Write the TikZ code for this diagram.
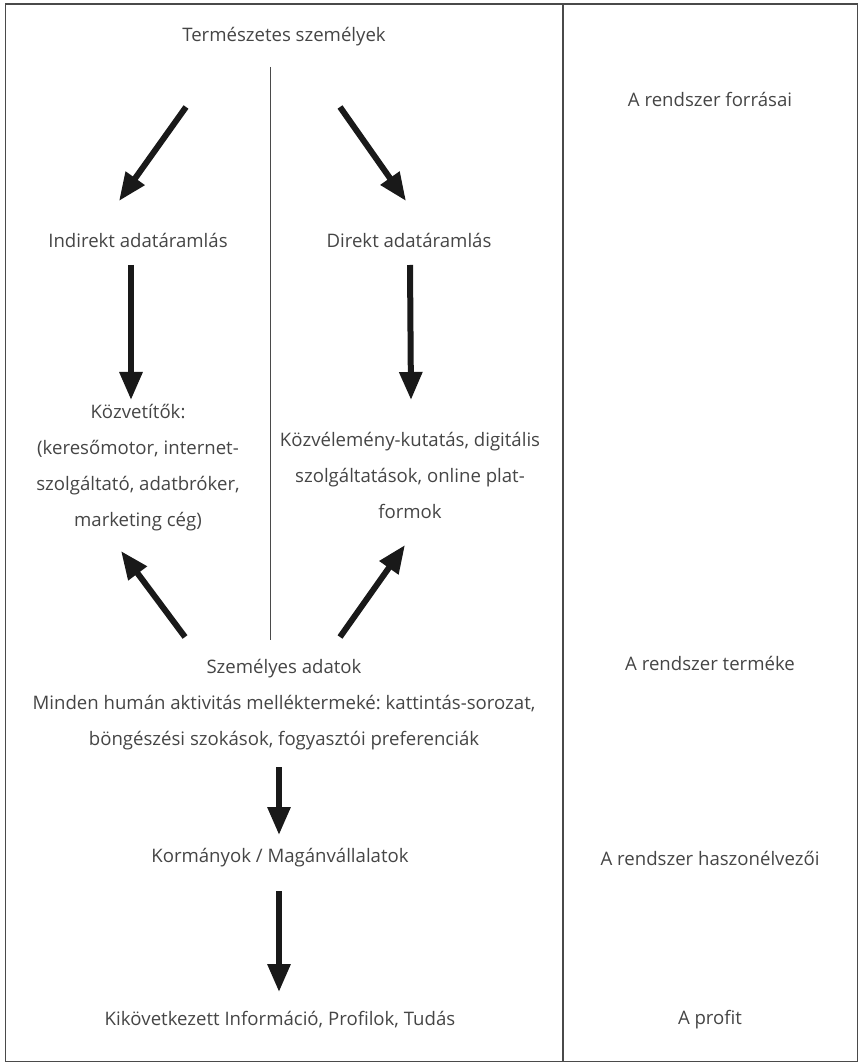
\documentclass[tikz,border=0pt]{standalone}
\usepackage{fontspec}
\setmainfont{Open Sans}
\frenchspacing
\usetikzlibrary{arrows.meta}
\usetikzlibrary{positioning}
\definecolor{txtgray}{HTML}{454545}
\definecolor{framegray}{HTML}{4A4A4A}
\tikzset{
    lbl/.style={text=txtgray, font=\fontsize{9.3}{18}\selectfont, align=center, inner sep=0pt},
    flow/.style={draw=black!90, line width=3pt, -{Triangle[length=14pt,width=11pt]}},
    frame/.style={draw=framegray, line width=0.8pt},
    divider/.style={draw=framegray, line width=0.5pt},
}
\begin{document}
\begin{tikzpicture}[x=0.5pt,y=-0.5pt]
	\useasboundingbox (0,0) rectangle (859,1063);
	\draw[frame] (5.5,4) rectangle (857.5,1061.5);
	\draw[frame] (563,4) -- (563,1061.5);
	\draw[divider] (270,67) -- (270,640);
	% left column
	\node[lbl] (term) at (284,37) {Természetes személyek};
	\node[lbl] (indirekt) at (138,240) {Indirekt adatáramlás};
	\node[lbl] (direkt) at (409,240) {Direkt adatáramlás};
	\node[lbl] (kozvetitok) at (138,467.5) {Közvetítők:\\(keresőmotor, internet-\\szolgáltató, adatbróker,\\marketing cég)};
	\node[lbl] (kozvelemeny) at (410,475.5) {Közvélemény-kutatás, digitális\\szolgáltatások, online plat-\\formok};
	\node[lbl] (szemelyes) at (284,704.5) {Személyes adatok\\Minden humán aktivitás melléktermeké: kattintás-sorozat,\\böngészési szokások, fogyasztói preferenciák};
	\node[lbl] (kormanyok) at (280,858) {Kormányok / Magánvállalatok};
	\node[lbl] (tudas) at (280,1020) {Kikövetkezett Információ, Profilok, Tudás};
	% right column
	\node[lbl] (forrasai) at (710,99) {A rendszer forrásai};
	\node[lbl] (termeke) at (710,663) {A rendszer terméke};
	\node[lbl] (haszon) at (710,858) {A rendszer haszonélvezői};
	\node[lbl] (profit) at (710,1020) {A profit};
	% arrows
	\draw[flow] ([shift={(-98,70)}]term.center) -- ([shift={(-19,-39)}]indirekt.center);
	\draw[flow] ([shift={(56,70)}]term.center) -- ([shift={(-3,-39)}]direkt.center);
	\draw[flow] ([shift={(-7,25)}]indirekt.center) -- ([shift={(-7,-67.5)}]kozvetitok.center);
	\draw[flow] ([shift={(1,25)}]direkt.center) -- ([shift={(1,-75.5)}]kozvelemeny.center);
	\draw[flow] ([shift={(-99,-67.5)}]szemelyes.center) -- ([shift={(-17,83.5)}]kozvetitok.center);
	\draw[flow] ([shift={(56,-67.5)}]szemelyes.center) -- ([shift={(-5,69.5)}]kozvelemeny.center);
	\draw[flow] ([shift={(-5,62.5)}]szemelyes.center) -- ([shift={(-1,-23)}]kormanyok.center);
	\draw[flow] ([shift={(-1,33)}]kormanyok.center) -- ([shift={(-1,-28)}]tudas.center);
\end{tikzpicture}
\end{document}
